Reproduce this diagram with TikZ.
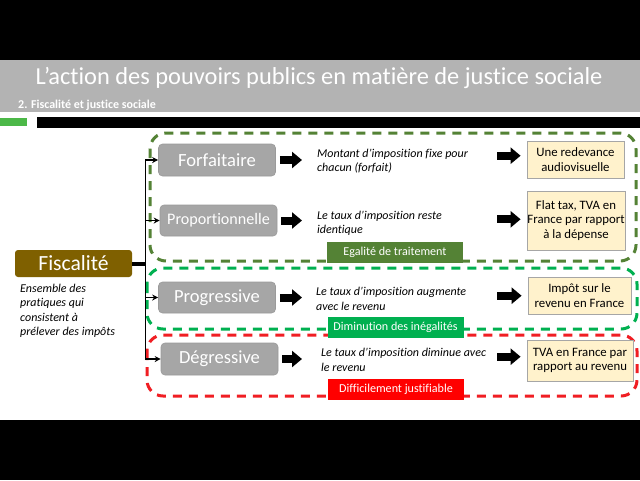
\documentclass[tikz,border=0pt]{standalone}
\usepackage{fontspec}
\setmainfont{Carlito}[Ligatures=NoCommon]
\usetikzlibrary{arrows.meta,calc}
\definecolor{bandgray}{HTML}{B3B3B3}
\definecolor{boxgray}{HTML}{A6A6A6}
\definecolor{boxgrayline}{HTML}{9A9A9A}
\definecolor{fiscbrown}{HTML}{7F6000}
\definecolor{olivegreen}{HTML}{548235}
\definecolor{brightgreen}{HTML}{00B050}
\definecolor{zonered}{HTML}{F01E23}
\definecolor{tagred}{HTML}{FF0000}
\definecolor{yfill}{HTML}{FFF2CC}
\definecolor{yline}{HTML}{A6A6A6}
\definecolor{bargreen}{HTML}{4CB848}
\begin{document}
\begin{tikzpicture}[x=1pt,y=-1pt,
  gbox/.style={draw=boxgrayline, line width=0.6pt, fill=boxgray, rounded corners=4pt, text=white, minimum width=117pt, minimum height=31pt, inner sep=0pt},
  ybox/.style={draw=yline, fill=yfill, line width=0.8pt, align=center, font=\fontsize{12.8}{14.8}\selectfont, inner sep=0pt},
  desc/.style={anchor=west, align=left, font=\fontsize{12}{14.3}\selectfont\itshape, inner sep=0pt},
  tagbox/.style={text=white, font=\fontsize{12.1}{13}\selectfont, minimum width=136pt, minimum height=21pt, inner sep=0pt},
  zone/.style={dash pattern=on 9pt off 7pt, line width=3pt, rounded corners=16pt},
  branch/.style={-{Stealth[length=6pt,width=6pt]}, line width=1.5pt},
  blockarrow/.style={line width=8pt, -{Triangle[length=10pt,width=16pt]}}
]
\useasboundingbox (0,0) rectangle (640,480);
% background
\fill[white] (0,0) rectangle (640,480);
\fill[black] (0,0) rectangle (640,60);
\fill[bandgray] (0,60) rectangle (640,112);
\fill[black] (0,420) rectangle (640,480);
\fill[bargreen] (0,118) rectangle (27,126);
\fill[black] (37,117) rectangle (640,128);
% title
\node[anchor=base, text=white, font=\fontsize{24.4}{28}\selectfont, inner sep=0pt] (title) at (319,84) {L’action des pouvoirs publics en matière de justice sociale};
\node[anchor=base west, text=white, font=\bfseries\fontsize{12}{13}\selectfont, inner sep=0pt] (sub) at (18,108) {2. Fiscalité et justice sociale};
% zones
\draw[zone, draw=olivegreen] (150,133) rectangle (636,261);
\draw[zone, draw=brightgreen] (147,268) rectangle (637,329);
\draw[zone, draw=zonered] (147,335) rectangle (637,396);
% Fiscalite
\node[fill=fiscbrown, rounded corners=3pt, text=white, minimum width=117pt, minimum height=27pt, inner sep=0pt, font=\fontsize{21.6}{23}\selectfont] (fisc) at (73.5,263.5) {Fiscalité};
\node[desc, anchor=north west] (fdesc) at (20,284) {Ensemble des\\pratiques qui\\consistent à\\prélever des impôts};
% gray boxes
\node[gbox, minimum height=32pt, font=\fontsize{18.6}{20}\selectfont] (g1) at (217,160) {Forfaitaire};
\node[gbox, font=\fontsize{16.1}{18}\selectfont] (g2) at (218.5,220.5) {Proportionnelle};
\node[gbox, font=\fontsize{18.5}{20}\selectfont] (g3) at (217,297.5) {Progressive};
\node[gbox, minimum height=32pt, font=\fontsize{18.5}{20}\selectfont] (g4) at (219.5,359) {Dégressive};
% tree
\coordinate (j) at (145.5,263.5);
\draw[line width=4pt] (fisc.east) -- (j);
\draw[branch] (j) |- (g1.west);
\draw[branch] (j) |- (g2.west);
\draw[branch] (j) |- (g3.west);
\draw[branch] (j) |- (g4.west);
% descriptions
\node[desc] (d1) at (317,161.5) {Montant d’imposition fixe pour\\chacun (forfait)};
\node[desc] (d2) at (317,223.5) {Le taux d’imposition reste\\identique};
\node[desc] (d3) at (316,299) {Le taux d’imposition augmente\\avec le revenu};
\node[desc] (d4) at (321,360) {Le taux d’imposition diminue avec\\le revenu};
% first block arrows
\draw[blockarrow, shorten <=4pt, shorten >=15pt] (g1.east) -- (g1.east -| d1.west);
\draw[blockarrow, shorten <=4pt, shorten >=15pt] (g2.east) -- (g2.east -| d1.west);
\draw[blockarrow, shorten <=4pt, shorten >=15pt] (g3.east) -- (g3.east -| d1.west);
\draw[blockarrow, shorten <=4pt, shorten >=15pt] (g4.east) -- (g4.east -| d1.west);
% yellow boxes
\node[ybox, minimum width=97pt, minimum height=37pt] (y1) at (575.5,159.5) {Une redevance\\audiovisuelle};
\node[ybox, minimum width=98pt, minimum height=59pt] (y2) at (576,220.5) {Flat tax, TVA en\\France par rapport\\à la dépense};
\node[ybox, minimum width=103pt, minimum height=37pt] (y3) at (579.5,295.5) {Impôt sur le\\revenu en France};
\node[ybox, minimum width=106pt, minimum height=41pt] (y4) at (580,360.5) {TVA en France par\\rapport au revenu};
% second block arrows
\coordinate (b1) at (497,155.7);
\coordinate (b2) at (497,219.3);
\coordinate (b3) at (497,295.7);
\coordinate (b4) at (497,356.7);
\draw[blockarrow, shorten >=6pt] (b1) -- (b1 -| y1.west);
\draw[blockarrow, shorten >=6pt] (b2) -- (b2 -| y2.west);
\draw[blockarrow, shorten >=6pt] (b3) -- (b3 -| y3.west);
\draw[blockarrow, shorten >=6pt] (b4) -- (b4 -| y4.west);
% tags
\node[tagbox, fill=olivegreen] (t1) at (395,252.5) {Egalité de traitement};
\node[tagbox, fill=brightgreen] (t2) at (395.5,327.5) {Diminution des inégalités};
\node[tagbox, fill=tagred] (t3) at (396,389.5) {Difficilement justifiable};
\end{tikzpicture}
\end{document}
